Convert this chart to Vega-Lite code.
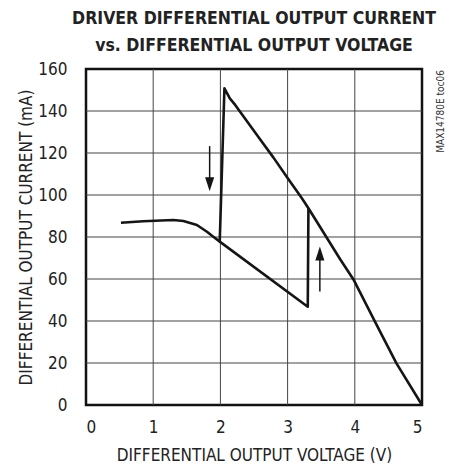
{
  "$schema": "https://vega.github.io/schema/vega-lite/v6.json",
  "width": 336,
  "height": 336,
  "autosize": {"type": "none"},
  "padding": {"left": 86, "top": 69, "right": 30, "bottom": 63},
  "background": "white",
  "title": {
    "text": ["DRIVER DIFFERENTIAL OUTPUT CURRENT", "vs. DIFFERENTIAL OUTPUT VOLTAGE"],
    "anchor": "middle",
    "font": "DejaVu Sans Condensed, Liberation Sans, sans-serif",
    "fontSize": 17.5,
    "fontWeight": "bold",
    "lineHeight": 27,
    "color": "#222222",
    "offset": 6
  },
  "config": {
    "view": {"stroke": "#111111", "strokeWidth": 2.5},
    "axis": {
      "labelFont": "DejaVu Sans Condensed, Liberation Sans, sans-serif",
      "titleFont": "DejaVu Sans Condensed, Liberation Sans, sans-serif",
      "labelFontSize": 17,
      "titleFontSize": 17,
      "titleFontWeight": "normal",
      "labelColor": "#222222",
      "titleColor": "#222222",
      "domain": false,
      "grid": false,
      "tickSize": 0
    }
  },
  "datasets": {
    "curve": [
      {"seg": "a", "i": 1, "v": 0.52, "c": 86.8},
      {"seg": "a", "i": 2, "v": 0.85, "c": 87.5},
      {"seg": "a", "i": 3, "v": 1.3, "c": 88.1},
      {"seg": "a", "i": 4, "v": 1.45, "c": 87.6},
      {"seg": "a", "i": 5, "v": 1.65, "c": 85.7},
      {"seg": "a", "i": 6, "v": 1.8, "c": 82.5},
      {"seg": "a", "i": 7, "v": 1.89, "c": 80.2},
      {"seg": "a", "i": 8, "v": 1.99, "c": 77.8},
      {"seg": "a", "i": 9, "v": 2.06, "c": 150.8},
      {"seg": "a", "i": 10, "v": 2.14, "c": 146},
      {"seg": "a", "i": 11, "v": 2.22, "c": 142.9},
      {"seg": "a", "i": 12, "v": 2.59, "c": 126.5},
      {"seg": "a", "i": 13, "v": 2.79, "c": 117.8},
      {"seg": "a", "i": 14, "v": 3.01, "c": 107.6},
      {"seg": "a", "i": 15, "v": 3.21, "c": 98.6},
      {"seg": "a", "i": 16, "v": 3.31, "c": 93.7},
      {"seg": "a", "i": 17, "v": 3.78, "c": 69.5},
      {"seg": "a", "i": 18, "v": 3.98, "c": 59.8},
      {"seg": "a", "i": 19, "v": 4.3, "c": 39.7},
      {"seg": "a", "i": 20, "v": 4.62, "c": 19.8},
      {"seg": "a", "i": 21, "v": 5.0, "c": 0},
      {"seg": "b", "i": 1, "v": 1.99, "c": 77.8},
      {"seg": "b", "i": 2, "v": 3.3, "c": 46.8},
      {"seg": "b", "i": 3, "v": 3.31, "c": 93.7}
    ],
    "gridx": [{"g": 1}, {"g": 2}, {"g": 3}, {"g": 4}],
    "gridy": [{"g": 20}, {"g": 40}, {"g": 60}, {"g": 80}, {"g": 100}, {"g": 120}, {"g": 140}],
    "shafts": [
      {"x": 1.84, "y1": 123.3, "y2": 106},
      {"x": 3.48, "y1": 54, "y2": 71}
    ],
    "heads": [
      {"x": 1.84, "y": 105.1, "dir": "down"},
      {"x": 3.48, "y": 72.1, "dir": "up"}
    ],
    "note": [{"label": "MAX14780E toc06"}]
  },
  "layer": [
    {
      "data": {"name": "gridx"},
      "mark": {"type": "rule", "color": "#444444", "strokeWidth": 1},
      "encoding": {"x": {"field": "g", "type": "quantitative"}}
    },
    {
      "data": {"name": "gridy"},
      "mark": {"type": "rule", "color": "#444444", "strokeWidth": 1},
      "encoding": {"y": {"field": "g", "type": "quantitative"}}
    },
    {
      "data": {"name": "curve"},
      "mark": {"type": "line", "color": "#151515", "strokeWidth": 2.6, "strokeJoin": "round"},
      "encoding": {
        "x": {
          "field": "v", "type": "quantitative",
          "scale": {"domain": [0, 5], "nice": false},
          "axis": {"values": [0, 1, 2, 3, 4, 5], "format": "d", "title": "DIFFERENTIAL OUTPUT VOLTAGE (V)", "labelPadding": 14, "titlePadding": 12}
        },
        "y": {
          "field": "c", "type": "quantitative",
          "scale": {"domain": [0, 160], "nice": false},
          "axis": {"values": [0, 20, 40, 60, 80, 100, 120, 140, 160], "format": "d", "title": "DIFFERENTIAL OUTPUT CURRENT (mA)", "labelPadding": 19, "titlePadding": 2}
        },
        "detail": {"field": "seg"},
        "order": {"field": "i", "type": "quantitative"}
      }
    },
    {
      "data": {"name": "shafts"},
      "mark": {"type": "rule", "color": "#151515", "strokeWidth": 1.5},
      "encoding": {
        "x": {"field": "x", "type": "quantitative"},
        "y": {"field": "y1", "type": "quantitative"},
        "y2": {"field": "y2"}
      }
    },
    {
      "data": {"name": "heads"},
      "mark": {"type": "point", "filled": true, "color": "#151515", "size": 196, "opacity": 1},
      "encoding": {
        "x": {"field": "x", "type": "quantitative"},
        "y": {"field": "y", "type": "quantitative"},
        "shape": {
          "field": "dir", "type": "nominal",
          "scale": {"domain": ["down", "up"], "range": ["M-0.65,-1L0.65,-1L0,1Z", "M-0.65,1L0.65,1L0,-1Z"]},
          "legend": null
        }
      }
    },
    {
      "data": {"name": "note"},
      "mark": {"type": "text", "angle": 270, "align": "right", "baseline": "middle", "dy": 19, "fontSize": 10, "font": "DejaVu Sans Condensed, Liberation Sans, sans-serif", "color": "#333333"},
      "encoding": {
        "x": {"datum": 5, "type": "quantitative"},
        "y": {"datum": 159.5, "type": "quantitative"},
        "text": {"field": "label"}
      }
    }
  ]
}
